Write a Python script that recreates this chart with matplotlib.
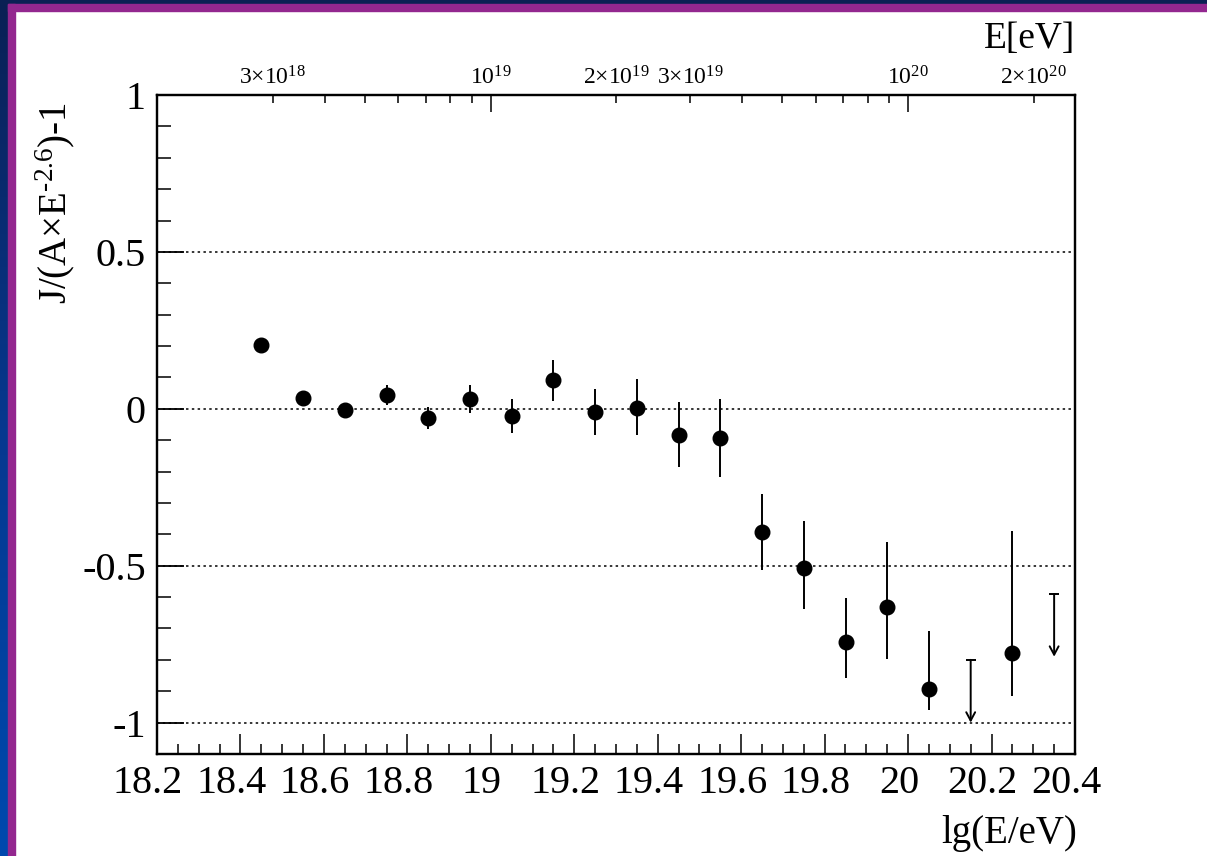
import numpy as np
import matplotlib
matplotlib.use("Agg")
import matplotlib.pyplot as plt
from matplotlib.ticker import FixedLocator, FixedFormatter, MultipleLocator
from matplotlib.transforms import ScaledTranslation
from matplotlib.patches import Rectangle
from matplotlib.colors import LinearSegmentedColormap

plt.rcParams["font.family"] = ["Liberation Serif", "DejaVu Serif"]
plt.rcParams["mathtext.fontset"] = "custom"
plt.rcParams["mathtext.rm"] = "Liberation Serif"
plt.rcParams["mathtext.it"] = "Liberation Serif:italic"
plt.rcParams["mathtext.bf"] = "Liberation Serif:bold"

# ---- data: flux relative to a E^-2.6 power law ----
lgE = [18.45, 18.55, 18.65, 18.75, 18.85, 18.95, 19.05, 19.15, 19.25, 19.35,
       19.45, 19.55, 19.65, 19.75, 19.85, 19.95, 20.05, 20.25]
ratio = [0.204, 0.034, -0.005, 0.045, -0.029, 0.032, -0.023, 0.093, -0.011, 0.003,
         -0.083, -0.092, -0.394, -0.508, -0.744, -0.633, -0.892, -0.778]
err_lo = [0.010, 0.012, 0.015, 0.032, 0.036, 0.046, 0.053, 0.067, 0.074, 0.088,
          0.104, 0.125, 0.119, 0.130, 0.115, 0.164, 0.068, 0.137]
err_hi = [0.010, 0.012, 0.015, 0.032, 0.034, 0.045, 0.053, 0.064, 0.074, 0.092,
          0.106, 0.122, 0.124, 0.151, 0.141, 0.208, 0.185, 0.388]

# upper limits
ul_lgE = [20.15, 20.35]
ul_value = [-0.80, -0.59]

# axis tick labels
xticks = [18.2, 18.4, 18.6, 18.8, 19.0, 19.2, 19.4, 19.6, 19.8, 20.0, 20.2, 20.4]
xticklabels = ["18.2", "18.4", "18.6", "18.8", "19", "19.2", "19.4", "19.6", "19.8", "20", "20.2", "20.4"]
yticks = [-1, -0.5, 0, 0.5, 1]
yticklabels = ["-1", "-0.5", "0", "0.5", "1"]
grid_levels = [-1, -0.5, 0, 0.5]

# top energy axis
E_major = [1e19, 1e20]
E_major_labels = ["10$^{19}$", "10$^{20}$"]
E_minor = [3e18, 4e18, 5e18, 6e18, 7e18, 8e18, 9e18,
           2e19, 3e19, 4e19, 5e19, 6e19, 7e19, 8e19, 9e19, 2e20]
E_minor_labels = ["3×10$^{18}$", "", "", "", "", "", "",
                  "2×10$^{19}$", "3×10$^{19}$", "", "", "", "", "", "", "2×10$^{20}$"]

W, H = 1207, 856
fig = plt.figure(figsize=(W / 100, H / 100), dpi=100, facecolor="white")

# ---- slide frame ----
navy = "#0b2054"
purple = "#93278f"
grad = LinearSegmentedColormap.from_list("edge", ["#0b2054", "#06388f", "#0049ae"])
side = fig.add_axes([0, 0, 8 / W, 1])
side.imshow(np.linspace(0, 1, 256).reshape(-1, 1), aspect="auto", cmap=grad,
            extent=[0, 1, 0, 1], origin="upper")
side.set_axis_off()
fig.patches.append(Rectangle((0, 1 - 4 / H), 1, 4 / H, transform=fig.transFigure,
                             color=navy, zorder=0))
fig.patches.append(Rectangle((8 / W, 0), 7 / W, 1 - 4 / H, transform=fig.transFigure,
                             color=purple, zorder=0))
fig.patches.append(Rectangle((8 / W, 1 - 11 / H), 1, 7 / H, transform=fig.transFigure,
                             color=purple, zorder=0))

# ---- main axes ----
ax_l, ax_r, ax_t, ax_b = 157, 1075, 95, 754
ax = fig.add_axes([ax_l / W, 1 - ax_b / H, (ax_r - ax_l) / W, (ax_b - ax_t) / H])
ax.set_xlim(18.2, 20.4)
ax.set_ylim(-1.1, 1.0)

for s in ax.spines.values():
    s.set_linewidth(1.6)

for lvl in grid_levels:
    ax.axhline(lvl, color="black", lw=1.1, linestyle=(0, (1.6, 2.2)), zorder=1)

ax.errorbar(lgE, ratio, yerr=[err_lo, err_hi], fmt="o", color="black",
            markersize=10.5, elinewidth=1.4, capsize=0, zorder=3)

for x, v in zip(ul_lgE, ul_value):
    ax.plot([x], [v], marker="_", markersize=7.5, mew=1.4, color="black", zorder=3)
    ax.annotate("", xy=(x, v - 0.2), xytext=(x, v),
                arrowprops=dict(arrowstyle="->,head_length=0.6,head_width=0.32",
                                lw=1.4, color="black", shrinkA=0, shrinkB=0),
                zorder=3)

ax.xaxis.set_major_locator(FixedLocator(xticks))
ax.xaxis.set_major_formatter(FixedFormatter(xticklabels))
ax.xaxis.set_minor_locator(MultipleLocator(0.05))
ax.yaxis.set_major_locator(FixedLocator(yticks))
ax.yaxis.set_major_formatter(FixedFormatter(yticklabels))
ax.yaxis.set_minor_locator(MultipleLocator(0.1))

ax.tick_params(axis="x", which="major", direction="in", length=14.5, width=1.1,
               labelsize=29, pad=8, top=False)
ax.tick_params(axis="x", which="minor", direction="in", length=7.2, width=1.1, top=False)
ax.tick_params(axis="y", which="major", direction="in", length=19.5, width=1.3,
               labelsize=29, pad=8, right=False)
ax.tick_params(axis="y", which="minor", direction="in", length=10, width=1.1, right=False)

# shift the bottom labels slightly to the left
for t in ax.xaxis.get_major_ticks(len(xticks)):
    t.label1.set_transform(t.label1.get_transform()
                           + ScaledTranslation(-9 / 100, 0, fig.dpi_scale_trans))

# ---- top energy axis ----
ax2 = ax.twiny()
ax2.set_xscale("log")
ax2.set_xlim(10 ** 18.2, 10 ** 20.4)
ax2.xaxis.set_major_locator(FixedLocator(E_major))
ax2.xaxis.set_major_formatter(FixedFormatter(E_major_labels))
ax2.xaxis.set_minor_locator(FixedLocator(E_minor))
ax2.xaxis.set_minor_formatter(FixedFormatter(E_minor_labels))
ax2.tick_params(axis="x", which="major", direction="in", length=12.5, width=1.1,
                labelsize=17, pad=4, bottom=False)
ax2.tick_params(axis="x", which="minor", direction="in", length=6, width=1.1,
                labelsize=17, pad=4, bottom=False)
for s in ax2.spines.values():
    s.set_linewidth(1.6)

# ---- axis titles ----
fig.text(1077 / W, 1 - 843 / H, "lg(E/eV)", fontsize=28, ha="right", va="baseline")
fig.text(1075 / W, 1 - 48 / H, "E[eV]", fontsize=27, ha="right", va="baseline")
fig.text(55 / W, 1 - 102 / H, r"J/(A$\times$E$^{\text{-2.6}}$)-1", fontsize=28,
         rotation=90, ha="center", va="top")

fig.savefig("out.png", dpi=100, facecolor="white")
